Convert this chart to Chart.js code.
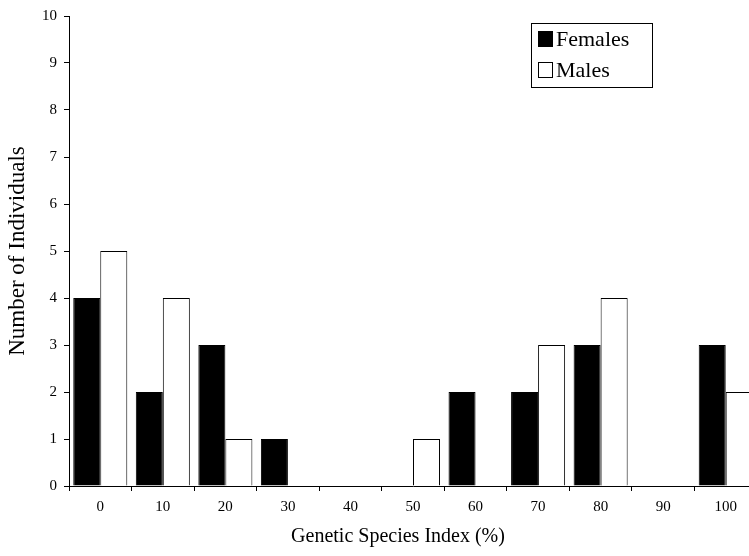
<!DOCTYPE html>
<html>
<head>
<meta charset="utf-8">
<script src="https://cdn.jsdelivr.net/npm/chart.js@4.4.1/dist/chart.umd.min.js"></script>
<style>
  html, body { margin: 0; padding: 0; background: #fff; overflow: hidden; }
  #wrap { width: 749px; height: 556px; overflow: hidden; }
</style>
</head>
<body>
<div id="wrap"><canvas id="chart" width="757" height="556"></canvas></div>
<script>
const categories = ['0', '10', '20', '30', '40', '50', '60', '70', '80', '90', '100'];
const females = [4, 2, 3, 1, 0, 0, 2, 2, 3, 0, 3];
const males = [5, 4, 1, 0, 0, 1, 0, 3, 4, 0, 2];
const xTitle = 'Genetic Species Index (%)';

const serif = '"Liberation Serif", "Times New Roman", serif';

// legend box drawn inside the plot, and the x title (centred on the original, wider figure)
const extras = {
  id: 'extras',
  afterDraw(chart) {
    const ctx = chart.ctx;
    ctx.save();
    ctx.strokeStyle = '#000';
    ctx.lineWidth = 1;
    ctx.strokeRect(531.5, 23.5, 121, 64);
    ctx.font = '22px ' + serif;
    ctx.textBaseline = 'alphabetic';
    chart.data.datasets.forEach((ds, i) => {
      const y = 31 + i * 31;
      ctx.fillStyle = ds.backgroundColor;
      ctx.fillRect(538, y, 15, 16);
      ctx.strokeRect(538.5, y + 0.5, 14, 15);
      ctx.fillStyle = '#000';
      ctx.fillText(ds.label, 556, y + 15);
    });
    ctx.font = '20px ' + serif;
    ctx.textAlign = 'center';
    ctx.textBaseline = 'middle';
    ctx.fillText(xTitle, 398, 537);
    ctx.restore();
  }
};

new Chart(document.getElementById('chart'), {
  type: 'bar',
  data: {
    labels: categories,
    datasets: [
      { label: 'Females', data: females, backgroundColor: '#000000', borderColor: '#000', borderWidth: 1 },
      { label: 'Males', data: males, backgroundColor: '#ffffff', borderColor: '#000', borderWidth: 1 },
    ],
  },
  options: {
    responsive: false,
    animation: false,
    devicePixelRatio: 1,
    layout: { padding: { top: 14, right: 0, bottom: 8, left: 0 } },
    datasets: { bar: { categoryPercentage: 0.864, barPercentage: 1 } },
    plugins: { legend: { display: false }, tooltip: { enabled: false } },
    scales: {
      x: {
        offset: true,
        grid: { offset: true, drawOnChartArea: false, tickLength: 5, color: '#000' },
        border: { color: '#000', width: 1 },
        ticks: { color: '#000', font: { family: serif, size: 15 }, padding: 7, maxRotation: 0 },
        title: { display: false },
        afterFit: s => { s.height = 62; },
      },
      y: {
        min: 0,
        max: 10,
        grid: { drawOnChartArea: false, tickLength: 5, color: '#000' },
        border: { color: '#000', width: 1 },
        ticks: { stepSize: 1, color: '#000', font: { family: serif, size: 15 }, padding: 7 },
        title: { display: true, text: 'Number of Individuals', color: '#000', font: { family: serif, size: 23 }, padding: { top: 4, bottom: 0 } },
        afterFit: s => { s.width = 69; },
      },
    },
  },
  plugins: [extras],
});
</script>
</body>
</html>
